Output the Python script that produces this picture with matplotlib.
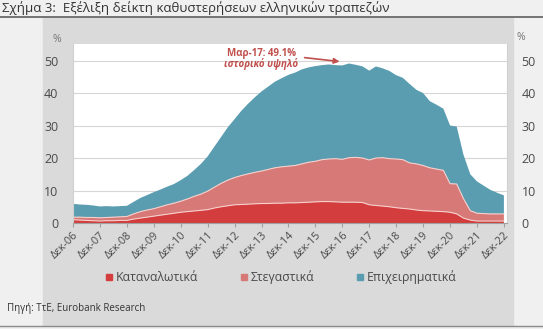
"""Σχήμα 3: Εξέλιξη δείκτη καθυστερήσεων ελληνικών τραπεζών (stacked area)."""

import matplotlib
matplotlib.use('Agg')
import matplotlib.pyplot as plt
from matplotlib.lines import Line2D
from matplotlib.patches import Rectangle
import numpy as np
import pandas as pd

plt.rcParams['font.family'] = ['Open Sans', 'Noto Sans', 'DejaVu Sans']

# quarterly, Dec-06 .. Dec-22 (% of loans, stacked components)
consumer = [1.0, 0.9, 0.8, 0.7, 0.6, 0.7, 0.7, 0.8, 0.8, 1.2, 1.5, 1.8, 2.1,
            2.4, 2.7, 3.0, 3.3, 3.5, 3.7, 3.9, 4.1, 4.6, 5.0, 5.3, 5.6,
            5.7, 5.8, 5.9, 6.0, 6.0, 6.1, 6.1, 6.2, 6.2, 6.3, 6.4, 6.5,
            6.6, 6.6, 6.5, 6.4, 6.4, 6.4, 6.3, 5.6, 5.4, 5.2, 5.0, 4.7,
            4.5, 4.3, 4.0, 3.8, 3.7, 3.6, 3.5, 3.3, 2.8, 1.5, 0.9, 0.6,
            0.6, 0.6, 0.6, 0.6]
housing = [0.8, 0.9, 0.9, 1.0, 1.0, 1.0, 1.1, 1.1, 1.2, 1.6, 2.0, 2.2, 2.3,
           2.6, 2.9, 3.1, 3.4, 3.9, 4.5, 5.0, 5.7, 6.4, 7.2, 7.9, 8.4,
           8.9, 9.3, 9.7, 10.0, 10.5, 10.9, 11.2, 11.3, 11.5, 11.9, 12.3, 12.5,
           12.9, 13.1, 13.3, 13.2, 13.7, 13.8, 13.7, 13.8, 14.6, 14.9, 14.8, 15.0,
           15.0, 14.2, 14.2, 13.9, 13.3, 13.0, 12.7, 8.8, 9.2, 6.0, 2.9, 2.4,
           2.3, 2.2, 2.2, 2.2]
business = [4.1, 3.9, 3.9, 3.7, 3.5, 3.5, 3.3, 3.3, 3.3, 3.7, 4.2, 4.6, 5.1,
            5.3, 5.6, 5.9, 6.5, 7.1, 8.1, 9.3, 10.7, 12.5, 14.3, 16.3, 18.0,
            19.9, 21.6, 23.1, 24.5, 25.5, 26.5, 27.3, 28.1, 28.6, 29.1, 29.2, 29.3,
            29.1, 29.1, 28.8, 28.9, 29.0, 28.5, 28.2, 27.5, 28.2, 27.5, 27.0, 25.8,
            25.2, 24.3, 22.8, 22.3, 20.5, 19.8, 19.0, 17.9, 17.7, 13.5, 11.2, 9.8,
            8.6, 7.4, 6.5, 5.7]

dates = pd.date_range('2006-12-01', periods=len(consumer), freq='3MS')
tick_dates = pd.date_range('2006-12-01', '2022-12-01', freq='12MS')
tick_labels = [f'Δεκ-{d:%y}' for d in tick_dates]

series_names = ['Καταναλωτικά', 'Στεγαστικά', 'Επιχειρηματικά']
colors = ['#d33d3d', '#d77a77', '#5b9db0']

W, H = 543, 329
fig = plt.figure(figsize=(W / 100, H / 100), dpi=100, facecolor='#f0f0f0')

# grey panel behind the chart + rules
fig.patches.append(Rectangle((43 / W, 1 - 325 / H), 470 / W, 308 / H,
                             transform=fig.transFigure, color='#dadada', zorder=-5))
fig.add_artist(Line2D([0, 1], [1 - 16.5 / H] * 2, color='#6b6b6b', lw=1.3, zorder=5))
fig.add_artist(Line2D([0, 1], [1 - 325.5 / H] * 2, color='#8a8a8a', lw=1.0, zorder=5))

fig.text(2 / W, 1 - 8 / H, 'Σχήμα 3:  Εξέλιξη δείκτη καθυστερήσεων ελληνικών τραπεζών',
         fontsize=9.5, color='#333333', va='center', ha='left')

ax = fig.add_axes([73 / W, 1 - 223 / H, (507 - 73) / W, (223 - 44) / H])
ax.set_zorder(3)
ax.set_facecolor('white')
ax.stackplot(dates, consumer, housing, business, colors=colors, lw=0)
tops = np.cumsum([consumer, housing], axis=0)
for top in tops:
    ax.plot(dates, top, color='#f6cfcc', lw=0.8)

ax.set_ylim(0, 55.1)
ax.set_xlim(pd.Timestamp('2006-12-01'), pd.Timestamp('2023-01-12'))
ax.set_yticks(range(0, 51, 10))
ax.grid(axis='y', color='#d6d6d6', lw=0.8)
ax.set_axisbelow(True)
for s in ['left', 'right']:
    ax.spines[s].set_color('#d0d0d0')
    ax.spines[s].set_linewidth(0.8)
ax.spines['top'].set_visible(False)
ax.spines['bottom'].set_color('#a0a0a0')

ax.tick_params(axis='y', left=False, right=False, labelleft=True, labelright=True,
               labelsize=9, labelcolor='#4a4a4a', pad=7)
ax.set_xticks(tick_dates)
ax.set_xticklabels(tick_labels, rotation=45, ha='right', rotation_mode='anchor',
                   fontsize=7.8, color='#4a4a4a')
ax.tick_params(axis='x', length=3, color='#a0a0a0', pad=2)

fig.text(57 / W, 1 - 40 / H, '%', fontsize=7.5, color='#777777', ha='center', va='center')
fig.text(521 / W, 1 - 37 / H, '%', fontsize=7.5, color='#777777', ha='center', va='center')

# annotation for the peak
ax.annotate('', xy=(pd.Timestamp('2016-12-01'), 49.6),
            xytext=(pd.Timestamp('2015-06-01'), 51.0),
            arrowprops=dict(arrowstyle='-|>', color='#c0504d', lw=1.2, mutation_scale=8))
ax.text(pd.Timestamp('2013-12-01'), 52.2, 'Μαρ-17: 49.1%', fontsize=7, fontweight='bold',
        color='#c0504d', ha='center', va='center')
ax.text(pd.Timestamp('2013-12-01'), 48.8, 'ιστορικό υψηλό', fontsize=7, fontweight='bold',
        fontstyle='italic', color='#c0504d', ha='center', va='center')

handles = [Line2D([], [], marker='s', ls='none', markersize=4, color=c) for c in colors]
fig.legend(handles, series_names, loc='center', bbox_to_anchor=(281 / W, 1 - 277 / H),
           ncol=3, frameon=False, fontsize=8.8, handlelength=0.7, handletextpad=0.2,
           columnspacing=3.4, labelcolor='#4a4a4a')

fig.text(7 / W, 1 - 308 / H, 'Πηγή: ΤτΕ, Eurobank Research', fontsize=7,
         color='#333333', ha='left', va='center')

fig.savefig('out.png', dpi=100, facecolor=fig.get_facecolor())
